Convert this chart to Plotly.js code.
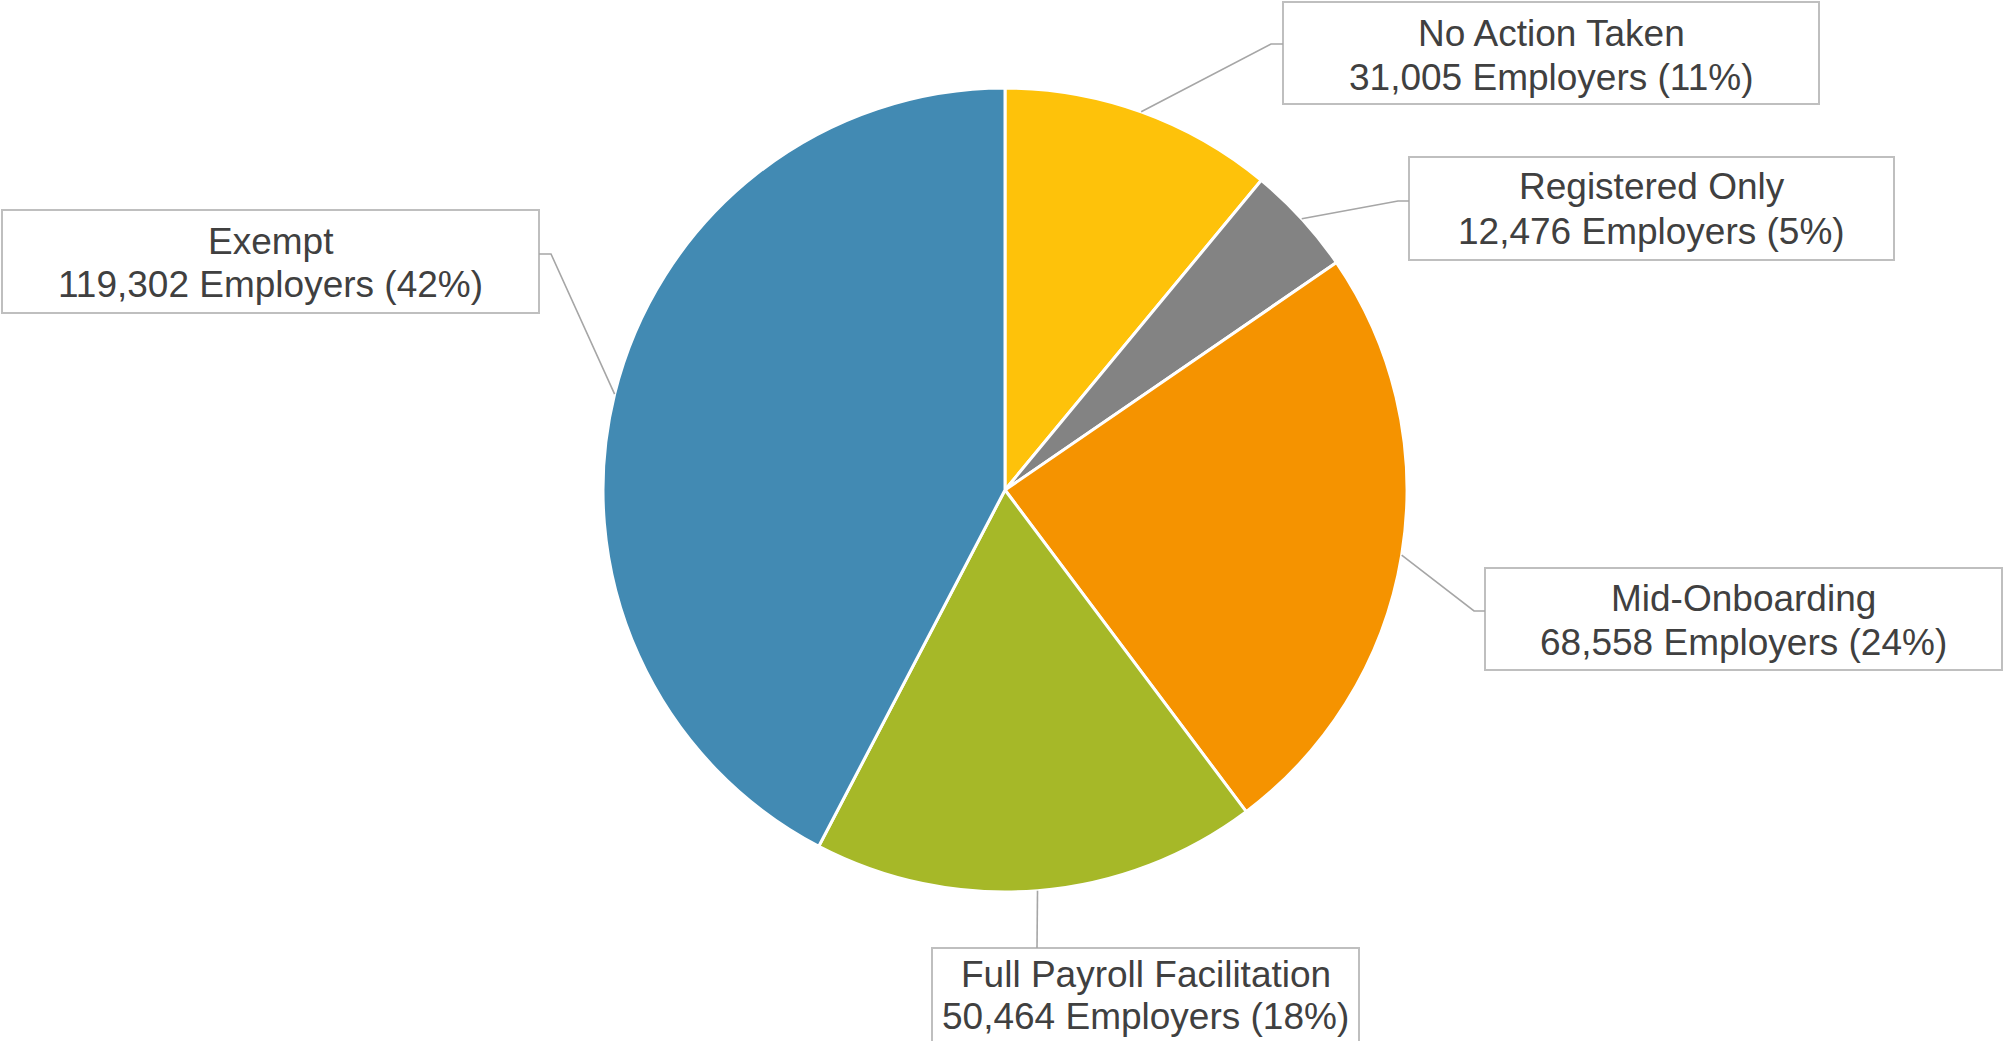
<!DOCTYPE html>
<html>
<head>
<meta charset="utf-8">
<script src="https://cdn.plot.ly/plotly-3.0.1.min.js"></script>
<style>
  html, body { margin: 0; padding: 0; background: #ffffff; }
  #chart { width: 2003px; height: 1041px; }
</style>
</head>
<body>
<div id="chart"></div>
<script>
// ---- data ----
const categories = ['No Action Taken', 'Registered Only', 'Mid-Onboarding', 'Full Payroll Facilitation', 'Exempt'];
const employers = [31005, 12476, 68558, 50464, 119302];
const percentLabels = ['11%', '5%', '24%', '18%', '42%'];
const sliceColors = ['#FEC20A', '#838383', '#F59300', '#A6B828', '#428AB3'];

// ---- layout (pixels) ----
const W = 2003, H = 1041;
const pieBox = { x0: 603, x1: 1407, y0: 88, y1: 892 };
const callouts = [
  { box: [1283, 2, 1819, 104],  elbow: [1271, 44],  attach: [1283, 44],  textY: [33, 77] },
  { box: [1409, 157, 1894, 260], elbow: [1398, 201], attach: [1409, 201], textY: [187, 231] },
  { box: [1485, 568, 2002, 670], elbow: [1474, 611], attach: [1485, 611], textY: [598, 642] },
  { box: [932, 948, 1359, 1050], elbow: [1037, 948], attach: [1037, 948], textY: [974, 1016] },
  { box: [2, 210, 539, 313],     elbow: [551, 254],  attach: [539, 254],  textY: [241, 285] }
];

const px = x => x / W;
const py = y => 1 - y / H;
const fmt = n => n.toLocaleString('en-US');

// pie geometry derived from data (clockwise from 12 o'clock)
const cx = (pieBox.x0 + pieBox.x1) / 2, cy = (pieBox.y0 + pieBox.y1) / 2;
const R = (pieBox.x1 - pieBox.x0) / 2;
const total = employers.reduce((a, b) => a + b, 0);
let cum = 0;
const edgePts = employers.map(v => {
  const mid = (cum + v / 2) / total * 2 * Math.PI;
  cum += v;
  return [cx + R * Math.sin(mid), cy - R * Math.cos(mid)];
});

const shapes = [];
const annotations = [];
const textFont = { family: 'Liberation Sans, Arial, sans-serif', size: 37, color: '#404040' };

categories.forEach((name, i) => {
  const c = callouts[i];
  const [bx0, by0, bx1, by1] = c.box;
  shapes.push({
    type: 'rect', xref: 'paper', yref: 'paper',
    x0: px(bx0), x1: px(bx1), y0: py(by1), y1: py(by0),
    line: { color: '#BFBFBF', width: 2 }, fillcolor: 'rgba(0,0,0,0)', layer: 'above'
  });
  const e = edgePts[i];
  shapes.push({
    type: 'path', xref: 'paper', yref: 'paper',
    path: `M ${px(e[0])} ${py(e[1])} L ${px(c.elbow[0])} ${py(c.elbow[1])} L ${px(c.attach[0])} ${py(c.attach[1])}`,
    line: { color: '#A6A6A6', width: 1.6 }, layer: 'above'
  });
  const mx = (bx0 + bx1) / 2;
  annotations.push({
    xref: 'paper', yref: 'paper', x: px(mx), y: py(c.textY[0]),
    xanchor: 'center', yanchor: 'middle', showarrow: false,
    text: name, font: textFont
  });
  annotations.push({
    xref: 'paper', yref: 'paper', x: px(mx), y: py(c.textY[1]),
    xanchor: 'center', yanchor: 'middle', showarrow: false,
    text: fmt(employers[i]) + ' Employers (' + percentLabels[i] + ')', font: textFont
  });
});

const trace = {
  type: 'pie',
  labels: categories,
  values: employers,
  sort: false,
  direction: 'clockwise',
  rotation: 0,
  textinfo: 'none',
  hoverinfo: 'label+value+percent',
  marker: { colors: sliceColors, line: { color: '#FFFFFF', width: 3 } },
  domain: { x: [px(pieBox.x0), px(pieBox.x1)], y: [py(pieBox.y1), py(pieBox.y0)] },
  showlegend: false
};

const layout = {
  width: W, height: H,
  margin: { l: 0, r: 0, t: 0, b: 0, pad: 0 },
  paper_bgcolor: '#FFFFFF', plot_bgcolor: '#FFFFFF',
  showlegend: false,
  shapes: shapes,
  annotations: annotations
};

Plotly.newPlot('chart', [trace], layout, { displayModeBar: false, staticPlot: true });
</script>
</body>
</html>
